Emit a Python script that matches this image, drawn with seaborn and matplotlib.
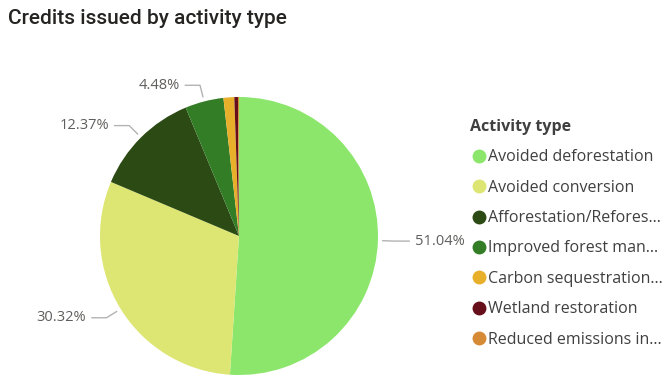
import numpy as np
import matplotlib
matplotlib.use("Agg")
import matplotlib.pyplot as plt
import seaborn as sns
from matplotlib.lines import Line2D

categories = ["Avoided deforestation", "Avoided conversion", "Afforestation/Refores…",
              "Improved forest man…", "Carbon sequestration…", "Wetland restoration",
              "Reduced emissions in…"]
values = [51.04, 30.32, 12.37, 4.48, 1.25, 0.42, 0.12]
colors = ["#8BE66B", "#DDE673", "#2B4A14", "#347D27", "#E8B02A", "#660E1A", "#D68A36"]
label_threshold = 3.0

sns.set_theme(style="white")
plt.rcParams['font.family'] = ['Open Sans', 'DejaVu Sans']

W, H = 672, 387
fig = plt.figure(figsize=(W / 100, H / 100), dpi=100)
cx, cy, R = 239, 236, 139
ax = fig.add_axes([(cx - R) / W, (H - cy - R) / H, 2 * R / W, 2 * R / H])

wedges, _ = ax.pie(values, colors=colors, startangle=90, counterclock=False,
                   radius=1, wedgeprops=dict(linewidth=0))
ax.set_xlim(-1, 1)
ax.set_ylim(-1, 1)
ax.set_aspect("equal")
ax.axis("off")

total = sum(values)
for w, v in zip(wedges, values):
    if v < label_threshold:
        continue
    th = np.deg2rad((w.theta1 + w.theta2) / 2)
    x1, y1 = 1.03 * np.cos(th), 1.03 * np.sin(th)
    x2, y2 = 1.12 * np.cos(th), 1.12 * np.sin(th)
    s = 1 if np.cos(th) >= 0 else -1
    x3 = x2 + s * 0.11
    ax.plot([x1, x2, x3], [y1, y2, y2], color="#B3B3B3", lw=1, clip_on=False,
            solid_capstyle="butt")
    ax.text(x3 + s * 0.035, y2, f"{v / total * 100:.2f}%", ha="left" if s > 0 else "right",
            va="center", fontsize=10.5, color="#605E5C", clip_on=False)

fig.text(8 / W, 1 - 19 / H, "Credits issued by activity type", fontsize=15,
         color="#252423", va="center", ha="left", family=["Roboto", "DejaVu Sans"],
         fontweight="medium")

handles = [Line2D([0], [0], marker="o", linestyle="", markersize=10,
                  markerfacecolor=c, markeredgewidth=0) for c in colors]
leg = fig.legend(handles, categories, loc="upper left",
                 bbox_to_anchor=(470 / W, 1 - 119 / H), frameon=False,
                 title="Activity type", fontsize=11.5, handletextpad=0.05,
                 labelspacing=0.9, handlelength=1.1, borderaxespad=0,
                 borderpad=0)
leg.get_title().set_fontweight("bold")
leg.get_title().set_fontsize(11.5)
leg.get_title().set_color("#404040")
leg._legend_box.align = "left"
for t in leg.get_texts():
    t.set_color("#404040")

fig.savefig("out.png", dpi=100)
